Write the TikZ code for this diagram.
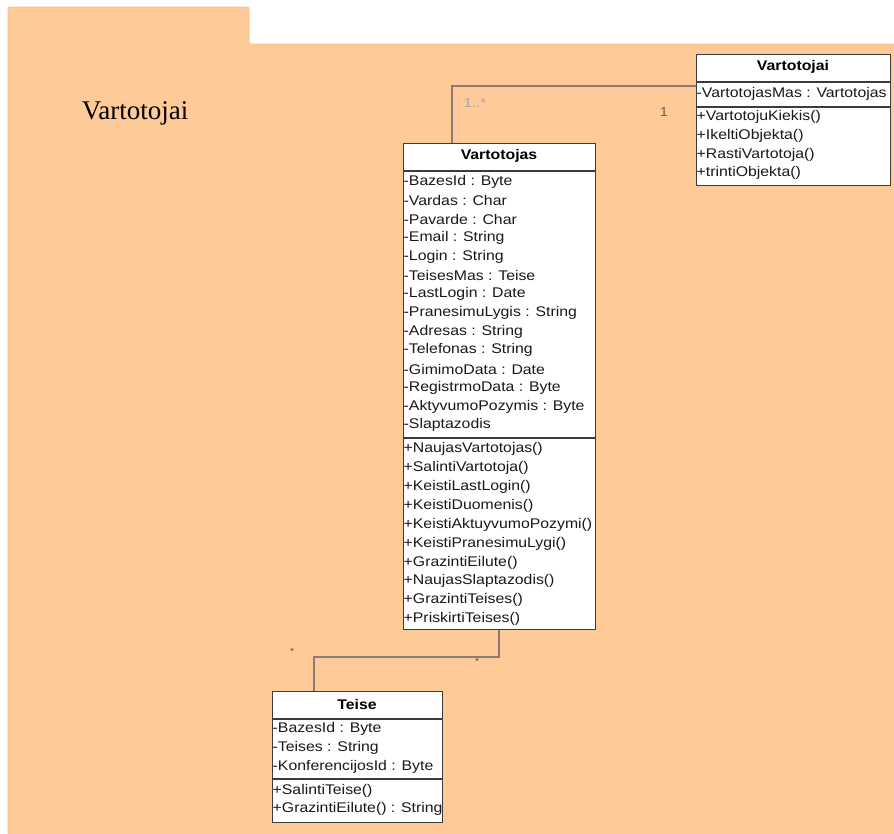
\documentclass[tikz,border=0pt]{standalone}
\usepackage{fontspec}
\newfontfamily\umlfont[FakeStretch=1.13]{Liberation Sans}
\newfontfamily\titlefont{Liberation Serif}
\definecolor{pkgfill}{HTML}{FECB98}
\definecolor{pkgedge}{HTML}{F3BE8C}
\definecolor{boxedge}{HTML}{3C3C3C}
\definecolor{linkcol}{HTML}{8C7B70}
\definecolor{multcol}{HTML}{6E6058}
\begin{document}
\begin{tikzpicture}[x=1pt,y=-1pt,
  classbox/.style={draw=boxedge,line width=1pt,fill=white,inner sep=0pt,anchor=north west},
  divider/.style={draw=boxedge,line width=1.2pt},
  member/.style={anchor=west,inner sep=0pt,font=\umlfont\fontsize{14}{16}\selectfont,text=black!90},
  classname/.style={inner sep=0pt,font=\umlfont\bfseries\fontsize{14}{16}\selectfont},
  link/.style={draw=linkcol,line width=1.3pt},
  mult/.style={inner sep=0pt,font=\umlfont\fontsize{13}{15}\selectfont,text=multcol}]
\useasboundingbox (0,0) rectangle (894,833);
% package with its tab
\fill[white] (0,0) rectangle (894,833);
\path[fill=pkgfill,draw=pkgedge,line width=0.8pt,rounded corners=2pt]
  (8,834) -- (8,7) -- (249,7) -- (249,44) -- (895,44) -- (895,834);
\node[font=\titlefont\fontsize{27}{30}\selectfont] (pkgname) at (135,113) {Vartotojai};

% class Vartotojai
\node[classbox,minimum width=194,minimum height=131] (vartotojai) at (696,54) {};
\node[classname] (vartotojaiT) at (793,67) {Vartotojai};
\draw[divider] (696,82) -- (890,82);
\draw[divider,line width=1.8pt] (696,107) -- (890,107);
\node[member] (vA1) at (696.5,94) {-VartotojasMas : Vartotojas};
\node[member] (vM1) at (696.5,117) {+VartotojuKiekis()};
\node[member] (vM2) at (696.5,136) {+IkeltiObjekta()};
\node[member] (vM3) at (696.5,155) {+RastiVartotoja()};
\node[member] (vM4) at (696.5,173) {+trintiObjekta()};

% class Vartotojas
\node[classbox,minimum width=192,minimum height=486] (vartotojas) at (403,143) {};
\node[classname] (vartotojasT) at (499,156) {Vartotojas};
\draw[divider] (403,171) -- (595,171);
\draw[divider] (403,438) -- (595,438);
\foreach \t [count=\i from 0] in {-BazesId : Byte,-Vardas : Char,-Pavarde : Char,
  -Email : String,-Login : String,-TeisesMas : Teise,-LastLogin : Date,
  -PranesimuLygis : String,-Adresas : String,-Telefonas : String,
  -GimimoData : Date,-RegistrmoData : Byte,-AktyvumoPozymis : Byte,-Slaptazodis}
  \node[member] (sA\i) at (403.5,182+18.7*\i) {\t};
\foreach \t [count=\i from 0] in {+NaujasVartotojas(),+SalintiVartotoja(),
  +KeistiLastLogin(),+KeistiDuomenis(),+KeistiAktuyvumoPozymi(),
  +KeistiPranesimuLygi(),+GrazintiEilute(),+NaujasSlaptazodis(),
  +GrazintiTeises(),+PriskirtiTeises()}
  \node[member] (sM\i) at (403.5,449+18.9*\i) {\t};

% class Teise
\node[classbox,minimum width=170,minimum height=131] (teise) at (272,691) {};
\node[classname] (teiseT) at (357,704) {Teise};
\draw[divider] (272,719) -- (442,719);
\draw[divider] (272,779) -- (442,779);
\node[member] (tA1) at (272.5,729) {-BazesId : Byte};
\node[member] (tA2) at (272.5,748) {-Teises : String};
\node[member] (tA3) at (272.5,767) {-KonferencijosId : Byte};
\node[member] (tM1) at (272.5,791) {+SalintiTeise()};
\node[member] (tM2) at (272.5,809) {+GrazintiEilute() : String};

% associations
\coordinate (bendA) at (452,86);
\draw[link] (vartotojas.north -| bendA) -- (bendA) -- (bendA -| vartotojai.west);
\coordinate (bendB) at (499,657);
\coordinate (bendC) at (314,657);
\draw[link] (vartotojas.south -| bendB) -- (bendB) -- (bendC) -- (bendC |- teise.north);

% multiplicities
\node[mult,text=black!35] (m1) at (475,103) {1..*};
\node[mult] (m2) at (664,112) {1};
\node[mult,font=\umlfont\fontsize{9}{10}\selectfont,text=black!70] (m3) at (292,651) {*};
\node[mult,font=\umlfont\fontsize{9}{10}\selectfont,text=black!70] (m4) at (477,661) {*};
\end{tikzpicture}
\end{document}
